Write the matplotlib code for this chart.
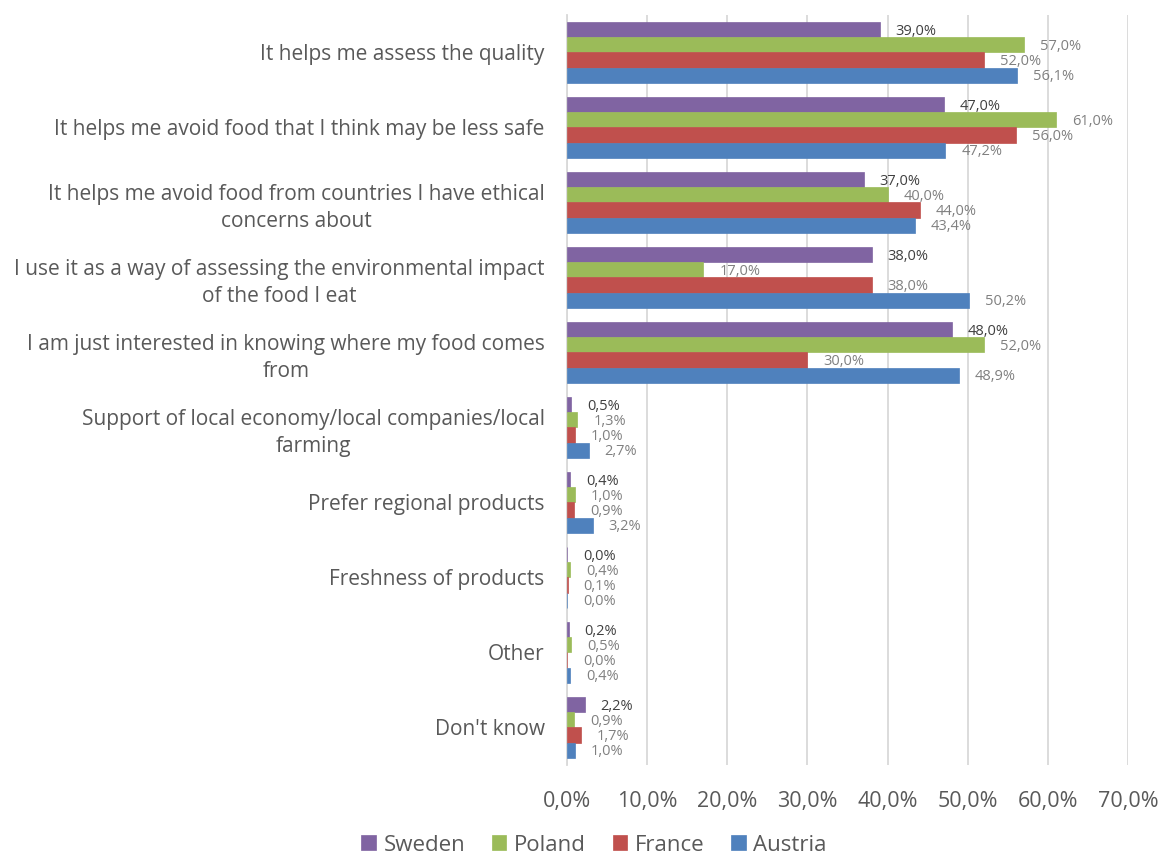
import numpy as np
import matplotlib.pyplot as plt
from matplotlib.ticker import FuncFormatter

plt.rcParams['font.family'] = ['Open Sans', 'DejaVu Sans']

categories = [
    "It helps me assess the quality",
    "It helps me avoid food that I think may be less safe",
    "It helps me avoid food from countries I have ethical\nconcerns about",
    "I use it as a way of assessing the environmental impact\nof the food I eat",
    "I am just interested in knowing where my food comes\nfrom",
    "Support of local economy/local companies/local\nfarming",
    "Prefer regional products",
    "Freshness of products",
    "Other",
    "Don't know",
]
sweden = [39.0, 47.0, 37.0, 38.0, 48.0, 0.5, 0.4, 0.0, 0.2, 2.2]
poland = [57.0, 61.0, 40.0, 17.0, 52.0, 1.3, 1.0, 0.4, 0.5, 0.9]
france = [52.0, 56.0, 44.0, 38.0, 30.0, 1.0, 0.9, 0.1, 0.0, 1.7]
austria = [56.1, 47.2, 43.4, 50.2, 48.9, 2.7, 3.2, 0.0, 0.4, 1.0]

series = [("Sweden", sweden, "#8064A2", "#404040"),
          ("Poland", poland, "#9BBB59", "#808080"),
          ("France", france, "#C0504D", "#808080"),
          ("Austria", austria, "#4F81BD", "#808080")]

fig = plt.figure(figsize=(11.58, 8.61), dpi=100)
ax = fig.add_axes([0.4896, 0.1115, 0.4845, 0.8711])

n = len(categories)
y = np.arange(n)
h = 0.203
for i, (name, vals, col, tcol) in enumerate(series):
    pos = y - 1.5 * h + i * h
    ax.barh(pos, vals, height=h, color=col, edgecolor=col, linewidth=0.5,
            label=name, zorder=3)
    for p, v in zip(pos, vals):
        ax.annotate(f"{v:.1f}%".replace('.', ','), (v, p), xytext=(11.5, -1),
                    textcoords='offset points', ha='left', va='center',
                    fontsize=10.5, color=tcol)

ax.set_ylim(n - 0.5, -0.5)
ax.set_xlim(0, 70)
ax.set_xticks(np.arange(0, 71, 10))
ax.xaxis.set_major_formatter(FuncFormatter(lambda v, _: f"{v:.1f}%".replace('.', ',')))
ax.set_yticks(y)
ax.set_yticklabels(categories, multialignment='center', linespacing=1.35)
ax.tick_params(axis='y', length=0, pad=16, labelsize=15, labelcolor='#595959')
ax.tick_params(axis='x', length=0, pad=19, labelsize=15.5, labelcolor='#595959')
ax.grid(axis='x', color='#d9d9d9', linewidth=1.3, zorder=0)
for s in ['top', 'right', 'bottom']:
    ax.spines[s].set_visible(False)
ax.spines['left'].set_color('#d9d9d9')
ax.spines['left'].set_linewidth(1.3)

leg = fig.legend(loc='lower center', bbox_to_anchor=(0.513, -0.017), ncol=4,
                 frameon=False, fontsize=16, handlelength=0.65, handleheight=0.65,
                 columnspacing=1.2, handletextpad=0.35)
for t in leg.get_texts():
    t.set_color('#595959')

fig.savefig('out.png', dpi=100)
